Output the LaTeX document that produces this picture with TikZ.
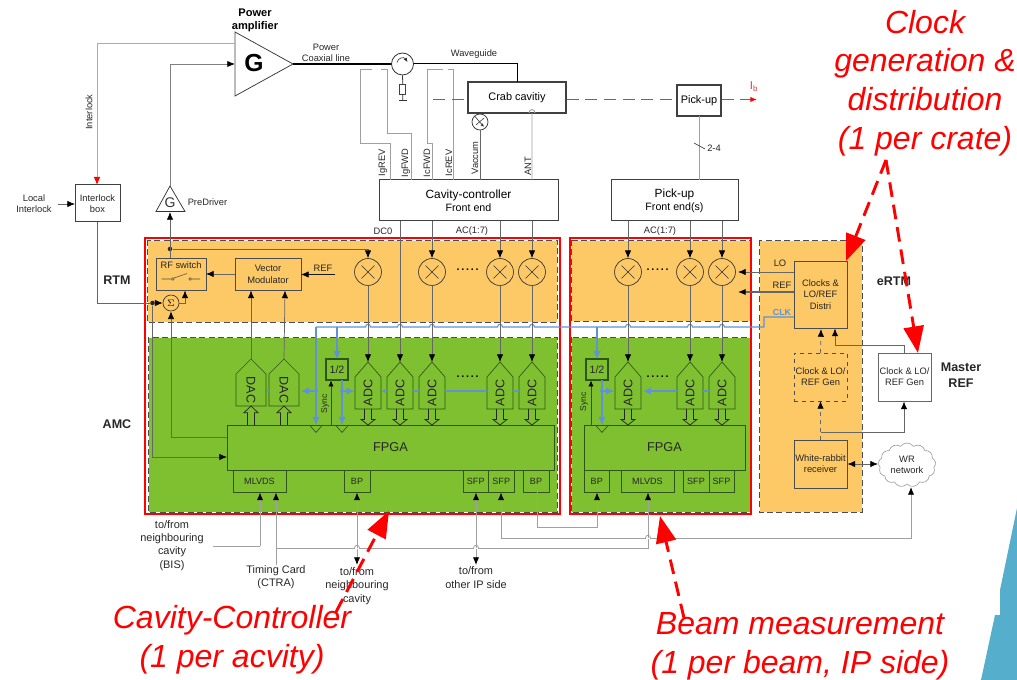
\documentclass[tikz,border=0pt]{standalone}
\usepackage{fontspec}
\setmainfont{Liberation Sans}
\usetikzlibrary{arrows.meta,shapes.symbols}
\definecolor{zorange}{HTML}{FDC866}
\definecolor{zgreen}{HTML}{7FC031}
\definecolor{wire}{HTML}{666666}
\definecolor{wgray}{HTML}{A0A0A0}
\definecolor{gline}{HTML}{2F5518}
\definecolor{bwire}{HTML}{5F92D6}
\definecolor{corner}{HTML}{55AECB}
\definecolor{beamred}{HTML}{F03030}
\definecolor{pinkwire}{HTML}{F58C8C}
\tikzset{
 x=0.75pt,y=-0.75pt,
 tip/.style={-{Latex[length=5.8pt,width=4.8pt,color=black]}},
 tipb/.style={{Latex[length=5.8pt,width=4.8pt,color=black]}-{Latex[length=5.8pt,width=4.8pt,color=black]}},
 wireline/.style={draw=wire,line width=0.55pt},
 grayline/.style={draw=wgray,line width=0.7pt},
 blueline/.style={draw=bwire,line width=0.8pt},
 bluetip/.style={-{Latex[length=6pt,width=5.5pt]}},
 sm/.style={font=\fontsize{7}{8.4}\selectfont,text=black!85,align=center,inner sep=0pt},
 lbl/.style={font=\fontsize{8.2}{10}\selectfont,text=black!85,align=center,inner sep=0pt},
 lg/.style={font=\fontsize{9.6}{12}\selectfont,text=black!85,align=center,inner sep=0pt},
 bd/.style={font=\fontsize{9.4}{12}\bfseries\selectfont,text=black!85,align=center,inner sep=0pt},
 note/.style={font=\fontsize{24}{29}\itshape\selectfont,text=red,align=center,inner sep=0pt},
 blockw/.style={draw=black!75,line width=0.75pt,fill=white},
 blockc/.style={draw=black!70,line width=0.65pt},
 blockg/.style={draw=gline,line width=0.65pt},
 zone/.style={fill=#1,draw=white,line width=0.7pt,postaction={draw=black!70,line width=0.7pt,dash pattern=on 4.5pt off 2.5pt}},
 redrect/.style={draw=red,line width=2.2pt},
 mixer/.style={circle,draw=black!80,line width=0.5pt,minimum size=20.2pt,inner sep=0pt},
 redarrow/.style={draw=red,line width=2.2pt,dash pattern=on 11pt off 6pt,-{Triangle[length=20pt,width=15pt,color=red]}},
 beamline/.style={draw=beamred,line width=0.7pt,dash pattern=on 9pt off 5pt},
 dotn/.style={circle,fill=black!85,inner sep=0pt,minimum size=3.4pt},
 bdot/.style={circle,fill=bwire,inner sep=0pt,minimum size=3pt},
 dotrow/.style={font=\fontsize{8}{9}\bfseries\selectfont,inner sep=0pt},
}
\newcommand\bx[7]{\node[minimum width={(#4-#2)*0.75pt},minimum height={(#5-#3)*0.75pt},inner sep=0pt,outer sep=0pt,align=center,#6] (#1) at ({(#2+#4)/2},{(#3+#5)/2}) {#7};}
\newcommand\pent[8]{\coordinate (#1-top) at (#2,#3); \coordinate (#1-bot) at (#2,#5);
 \draw[draw=gline,line width=0.5pt] (#2,#3) -- (#2+#6,#4) -- (#2+#6,#5) -- (#2-#6,#5) -- (#2-#6,#4) -- cycle;
 \node[rotate=#7,font=\fontsize{9.4}{12}\selectfont,text=black!85,inner sep=0pt] (#1) at (#2,{(#4+#5)/2}) {#8};}
\newcommand\fatarr[3]{\draw[draw=black!85,line width=0.55pt,fill=none] (#1-3.5,#3) -- (#1-3.5,{#2+(#3-#2)*0.35}) -- (#1-7,{#2+(#3-#2)*0.35}) -- (#1,#2) -- (#1+7,{#2+(#3-#2)*0.35}) -- (#1+3.5,{#2+(#3-#2)*0.35}) -- (#1+3.5,#3);}
\newcommand\hj[2]{-- (#1+2.5,#2) .. controls (#1+2.5,#2-3.6) and (#1-2.5,#2-3.6) .. (#1-2.5,#2)}
\newcommand\clkv[1]{\draw[draw=gline,line width=0.5pt] (#1-6.5,425) -- (#1,432.5) -- (#1+6.5,425);}
\begin{document}
\begin{tikzpicture}
\useasboundingbox (0,0) rectangle (1017,680);
% corner
\fill[corner] (1017,508) -- (1000,590) -- (1000,615) -- (995,615) -- (981,680) -- (1017,680) -- cycle;
% zones
\path[zone=zorange] (147,240) rectangle (557,322);
\path[zone=zorange] (571,240) rectangle (750,321);
\path[zone=zgreen] (148,337) rectangle (557,512);
\path[zone=zgreen] (571,337) rectangle (750,512);
\path[zone=zorange] (759,240) rectangle (862,512);
\draw[redrect] (145,238) rectangle (560,514);
\draw[redrect] (570,238) rectangle (751,514);

% top blocks
\coordinate (amp1) at (235,32); \coordinate (amp2) at (235,96); \coordinate (amp3) at (293,64);
\draw[draw=black!75,line width=0.6pt] (amp1) -- (amp3) -- (amp2) -- cycle;
\node[font=\fontsize{18.5}{20}\bfseries\selectfont,inner sep=0pt] (ampG) at (254,63) {G};
\node[font=\fontsize{8.3}{10}\bfseries\selectfont,align=center,inner sep=0pt] (amplab) at (255,20.5) {Power\\amplifier};
\coordinate (pd1) at (170,186); \coordinate (pd2) at (156,211.5); \coordinate (pd3) at (185,211.5);
\draw[draw=black!80,line width=0.55pt] (pd1) -- (pd3) -- (pd2) -- cycle;
\node[font=\fontsize{10.5}{12}\selectfont,text=black!80,inner sep=0pt] (pdG) at (170,202.5) {G};
\node[sm,anchor=west] (pdl) at (187.5,202) {PreDriver};
\bx{ilk}{75}{185}{120}{222}{blockw,sm}{Interlock\\box}
\node[sm] (locl) at (34,203.5) {Local\\Interlock};
\coordinate (loce) at (58,204);
\node[sm,rotate=90] (ilkl) at (89,112) {Interlock};
\node[bd] (rtm) at (117,280) {RTM};
\node[bd] (amc) at (117,424) {AMC};
\node[bd] (ertm) at (894,281) {eRTM};
\node[bd] (mref) at (961,375) {Master\\REF};
\node[sm] (pcl) at (326,52.5) {Power\\Coaxial line};
\node[sm] (wgl) at (474,54) {Waveguide};

% circulator
\node[circle,draw=black!80,line width=0.6pt,fill=white,minimum size=16.5pt,inner sep=0pt] (circ) at (402.5,64) {};
\draw[black!85,line width=0.45pt,-{Latex[length=3pt,width=2.6pt]}] (397,62.5) .. controls (398,57.5) and (404,56.5) .. (407.5,62);
\bx{load}{399.8}{84}{405.8}{94}{draw=black!75,line width=0.5pt}{}
\draw[black!80,line width=0.6pt] (circ.south) -- (load.north) (load.south) -- (402.8,100);
\coordinate (gl) at (399,100.5); \coordinate (gr) at (406.5,100.5);
\draw[black!80,line width=0.8pt] (gl) -- (gr);
% crab and pick-up
\bx{crab}{468}{82}{566}{113}{blockw,line width=1pt,font=\fontsize{8.2}{10}\selectfont}{Crab cavitiy}
\bx{pu}{677}{85}{721}{116}{blockw,line width=1pt,font=\fontsize{8.2}{10}\selectfont}{Pick-up}
\draw[black,line width=1pt] (amp3) -- (circ.west);
\draw[black,line width=0.75pt] (circ.east) -- (517,64) -- (517,82);
\coordinate (bstart) at (433,99.5); \coordinate (bend) at (757,99.5);
\coordinate (b1) at (467.5,99.5); \coordinate (b2) at (566.5,99.5); \coordinate (b3) at (676.5,99.5); \coordinate (b4) at (721.5,99.5);
\node[font=\fontsize{8.5}{10}\selectfont,text=beamred,inner sep=0pt] (ib) at (754,87) {I\textsubscript{b}};
\node[circle,draw=black!80,line width=0.55pt,fill=white,minimum size=12pt,inner sep=0pt] (vac) at (480,122) {};
\draw[black!80,line width=0.45pt,-{Latex[length=2.6pt,width=2.2pt]}] (475,116.5) -- (484,127);
\draw[black!80,line width=0.45pt] (476,125) -- (484,118);
% front ends
\bx{ccfe}{379}{180}{558}{221}{blockw,font=\fontsize{8}{9.75}\selectfont}{{\fontsize{8.9}{9.75}\selectfont Cavity-controller}\\Front end}
\bx{pufe}{611}{180}{738}{221}{blockw,font=\fontsize{8}{9.75}\selectfont}{{\fontsize{8.9}{9.75}\selectfont Pick-up}\\Front end(s)}
% probe lines
\draw[grayline] (390,180) -- (390,143) -- (360,143) -- (360,69) -- (372,69);
\draw[grayline] (381,69) -- (387,69) -- (387,133) -- (411,133) -- (411,180);
\draw[grayline] (432,180) -- (432,143) -- (427,143) -- (427,69) -- (443,69);
\draw[grayline] (448,69) -- (453,69) -- (453,180);
\draw[wireline] (vac.south) -- (480,180);
\draw[grayline] (532,180) -- (532,113) (529,113) .. controls (529,108.5) and (535,108.5) .. (535,113);
\draw[grayline] (pu.south -| 699,0) -- (699,180);
\coordinate (sl1) at (694,143); \coordinate (sl2) at (705,149);
\draw[black!80,line width=0.45pt] (sl1) -- (sl2);
\node[sm] (n24) at (714,148) {2-4};
\foreach \n/\xx/\yy/\t in {a/383/163/IgREV,b/406/163/IgFWD,c/427/163/IcFWD,d/449/163/IcREV,e/475/158/Vaccum,f/528/166/ANT}
  \node[sm,rotate=90] (lab\n) at (\xx,\yy) {\t};
\node[sm] (dc0) at (383,231) {DC0};
\node[sm] (ac1) at (472,231.5) {AC(1:7)};
\node[sm] (ac2) at (660,231.5) {AC(1:7)};

% mixers
\foreach \n/\xx in {1/368,2/432,3/500,4/532,5/628,6/690,7/722}{
  \node[mixer] (m\n) at (\xx,272) {};
  \draw[black!80,line width=0.5pt] (\xx-6.5,265.5) -- (\xx+6.5,278.5) (\xx+6.5,265.5) -- (\xx-6.5,278.5);}
\node[dotrow] (ld1) at (467.5,269.5) {.\,.\,.\,.\,.};
\node[dotrow] (ld2) at (657.5,269.5) {.\,.\,.\,.\,.};
% RTM blocks
\bx{rfs}{156}{258}{206}{290}{blockc}{}
\node[sm] (rfl) at (181,265) {RF switch};
\draw[black!70,line width=0.4pt] (161.5,279) -- (171.5,279) (174,278) -- (187,273.5) (191.5,279) -- (200,279);
\draw[black!70,line width=0.4pt] (172.8,279) circle[radius=1pt] (190.2,279) circle[radius=1pt];
\bx{vm}{235}{258}{301}{290}{blockc,sm,font=\fontsize{7}{9}\selectfont}{Vector\\Modulator}
\node[circle,draw=black!80,line width=0.5pt,minimum size=12pt,inner sep=0pt,font=\fontsize{7.5}{8}\selectfont] (sig) at (171,303) {$\Sigma$};
\node[sm] (refl) at (323,268) {REF};
\coordinate (refs) at (335,274.5);
\draw[black!90,line width=0.6pt,tip] (refs) -- (vm.east |- refs);
\draw[wireline,tip] (vm.west) -- (rfs.east);
% predriver path
\node[dotn] (d1) at (170,249) {};
\draw[wireline,tip] (rfs.north -| 170,0) -- (170,212);
\draw[grayline,tip,draw=wgray!80!black] (pd1) -- (170,64) -- (amp1 |- 0,64);
\draw[wireline,tip] (d1) -- (368,249) -- (m1.north);
% interlock
\coordinate (ilk1) at (235,43); \coordinate (ilk2) at (97,43); \coordinate (ilk3) at (97,185);
\draw[wireline,tip] (loce) -- (ilk.west |- loce);
\node[dotn] (d2) at (152.5,303) {};
\draw[wireline] (ilk.south -| 97,0) -- (97,303) -- (d2);
\draw[wireline,tip] (d2) -- (sig.west);
\draw[wireline,tip] (sig.east) -- (185,303) -- (185,290.5);

% FPGA etc
\bx{fp1}{227}{425}{554}{470}{blockg,lg}{FPGA}
\bx{fp2}{584}{425}{745}{470}{blockg,lg}{FPGA}
\foreach \n/\xa/\xb/\t in {ml1/233/286/MLVDS,bp1/344/370/BP,sf1/463/488.5/SFP,sf2/488.5/514/SFP,bp2/523/549/BP,bp3/584/609.5/BP,ml2/621/674/MLVDS,sf3/683/709/SFP,sf4/709/734/SFP}
  {\bx{\n}{\xa}{470}{\xb}{492}{blockg,sm,font=\fontsize{6.8}{8}\selectfont}{\t}}
\bx{hf1}{326}{359}{348}{380}{blockg,line width=0.8pt,font=\fontsize{8}{9}\selectfont,text=black!85}{1/2}
\bx{hf2}{586}{359}{608}{380}{blockg,line width=0.8pt,font=\fontsize{8}{9}\selectfont,text=black!85}{1/2}
\pent{dac1}{251}{359}{374}{406}{15}{-90}{DAC}
\pent{dac2}{284}{359}{374}{406}{15}{-90}{DAC}
\pent{adc1}{368}{362}{377}{409}{13}{90}{ADC}
\pent{adc2}{400}{362}{377}{409}{13}{90}{ADC}
\pent{adc3}{432}{362}{377}{409}{13}{90}{ADC}
\pent{adc4}{500}{362}{377}{409}{13}{90}{ADC}
\pent{adc5}{532}{362}{377}{409}{13}{90}{ADC}
\pent{adc6}{628}{362}{377}{409}{13}{90}{ADC}
\pent{adc7}{690}{362}{377}{409}{13}{90}{ADC}
\pent{adc8}{722}{362}{377}{409}{13}{90}{ADC}
\node[dotrow] (ld3) at (467.5,377) {.\,.\,.\,.\,.};
\node[dotrow] (ld4) at (657.5,377) {.\,.\,.\,.\,.};
\fatarr{251}{406}{425}
\fatarr{284}{406}{425}
\fatarr{368}{425}{409}
\fatarr{400}{425}{409}
\fatarr{432}{425}{409}
\fatarr{500}{425}{409}
\fatarr{532}{425}{409}
\fatarr{628}{425}{409}
\fatarr{690}{425}{409}
\fatarr{722}{425}{409}
\clkv{316}
\clkv{342}
\clkv{602}
% blue clock network
\bx{cd}{794}{261}{847}{328}{blockc,sm,font=\fontsize{7}{8.6}\selectfont,fill=zorange}{Clocks \&\\LO/REF\\Distri}
\draw[blueline] (cd.west |- 0,317) -- (764,317) -- (764,327) \hj{722}{327} \hj{690}{327} \hj{628}{327} \hj{532}{327} \hj{500}{327} \hj{432}{327} \hj{400}{327} \hj{368}{327} -- (316,327);
\draw[blueline,bluetip] (316,327) -- (316,425);
\draw[blueline,bluetip] (316,391) -- (301,391);
\draw[blueline] (268.5,391) -- (266.5,391);
\draw[blueline,bluetip] (337,327) -- (hf1.north -| 337,0);
\draw[blueline,bluetip] (342,380) -- (342,425);
\draw[blueline,bluetip] (342,391) -- (354.5,391);
\draw[blueline,-{Latex[length=3pt,width=3pt]}] (387,391) -- (381.5,391);
\draw[blueline] (419,391) -- (413,391) (487,391) -- (445,391) (519,391) -- (513,391);
\draw[blueline,bluetip] (597,327) -- (hf2.north -| 597,0);
\draw[blueline,bluetip] (602,380) -- (602,425);
\draw[blueline,bluetip] (602,391) -- (614,391);
\draw[blueline,bluetip] (677,391) -- (643,391);
\draw[blueline] (709,391) -- (703,391);
\node[bdot] (bd1) at (316,391) {};
\node[bdot] (bd2) at (342,391) {};
\node[bdot] (bd3) at (602,391) {};
% sync
\draw[draw=gline,line width=0.6pt,-{Latex[length=4.5pt,width=4pt,color=black]}] (331,425) -- (331,380.5);
\draw[draw=gline,line width=0.6pt,-{Latex[length=4.5pt,width=4pt,color=black]}] (591,425) -- (591,380.5);
\node[sm,rotate=90,font=\fontsize{6.4}{8}\selectfont] (sy1) at (325,404) {Sync};
\node[sm,rotate=90,font=\fontsize{6.4}{8}\selectfont] (sy2) at (584,402) {Sync};
% vertical wires
\draw[wireline,tip] (m2.south) -- (adc3-top);
\draw[wireline,tip] (m1.south) -- (adc1-top);
\draw[wireline,tip] (m3.south) -- (adc4-top);
\draw[wireline,tip] (m4.south) -- (adc5-top);
\draw[wireline,tip] (m5.south) -- (adc6-top);
\draw[wireline,tip] (m6.south) -- (adc7-top);
\draw[wireline,tip] (m7.south) -- (adc8-top);
\draw[wireline,tip] (400,221) -- (adc2-top);
\draw[wireline,tip] (432,221) -- (m2.north);
\draw[wireline,tip] (500,221) -- (m3.north);
\draw[wireline,tip] (532,221) -- (m4.north);
\draw[wireline,tip] (628,221) -- (m5.north);
\draw[wireline,tip] (690,221) -- (m6.north);
\draw[wireline,tip] (722,221) -- (m7.north);
\draw[wireline,tip] (dac1-top) -- (251,290.5);
\draw[wireline,tip] (dac2-top) -- (285,290.5);
\draw[wireline,tip] (227,437) -- (171,437) -- (sig.south);
\draw[wireline,tip] (d2) -- (152.5,457) -- (227,457);
% bottom wiring
\draw[grayline] (213,546) -- (260,546);
\draw[grayline,tip] (260,546) -- (260,492.5);
\coordinate (tc) at (276,565);
\draw[grayline,tip] (tc) -- (276,492.5);
\draw[grayline,tip] (276,548) -- (648,548) -- (648,492.5);
\draw[grayline,tipb] (357,492.5) -- (357,565);
\draw[grayline,tipb] (476,492.5) -- (476,565);
\draw[grayline,tip] (501,538) -- (501,492.5);
\draw[grayline,tip] (537,492.5) -- (537,527) -- (597,527) -- (597,492.5);
\node[lbl] (t1) at (172,545.5) {to/from\\neighbouring\\cavity\\(BIS)};
\node[lbl] (t2) at (276,577.5) {Timing Card\\(CTRA)};
\node[lbl] (t3) at (357,586) {to/from\\neighbouring\\cavity};
\node[lbl] (t4) at (476,577.5) {to/from\\other IP side};

% eRTM
\bx{cg1}{794}{353}{847}{401}{blockc,dashed,sm}{Clock \& LO/\\REF Gen}
\bx{wr}{794}{440}{847}{488}{blockc,sm}{White-rabbit\\receiver}
\bx{cg2}{878}{353}{931}{401}{blockc,draw=black!60,fill=white,sm}{Clock \& LO/\\REF Gen}
\node[cloud,cloud puffs=13,cloud puff arc=110,aspect=1.3,draw=wgray,line width=0.5pt,fill=white,minimum width=43pt,minimum height=33pt,inner sep=0pt,sm] (wrn) at (907,465) {WR\\network};
\draw[wireline,dashed,tip] (cg1.north) -- (821,329);
\draw[wireline,dashed,tip] (wr.north) -- (cg1.south);
\draw[wireline,tip] (821,432) -- (904,432) -- (904,401.5);
\draw[wireline,tip] (904,353) -- (904,345) -- (835,345) -- (835,328.5);
\draw[wireline,tipb] (847.5,464) -- (878,464);
\draw[wireline,tip] (cd.west |- 0,272) -- (738,272);
\draw[wireline,tip,line width=0.8pt] (cd.west |- 0,292) -- (738,292);
\node[sm] (lol) at (780,263) {LO};
\node[sm] (rel) at (782,285) {REF};
\node[font=\fontsize{6.6}{8}\bfseries\selectfont,text=bwire,inner sep=0pt] (clkl) at (782,312) {CLK};
\draw[grayline,tip] (501,538) -- (911,538) -- (911,487);
% jumps over lower wires
\foreach \xx/\yy in {357/548,476/548,648/538}
  {\fill[white] (\xx-2.4,\yy-0.5) rectangle (\xx+2.4,\yy+0.5);
   \draw[draw=wgray,line width=0.6pt] (\xx-2.5,\yy) .. controls (\xx-2.5,\yy-3.6) and (\xx+2.5,\yy-3.6) .. (\xx+2.5,\yy);}
% beam and interlock lines, last of the thin wires
\draw[beamline] (bstart) -- (b1);
\draw[beamline] (b2) -- (b3);
\draw[beamline,-{Latex[length=5pt,width=4pt,color=red]}] (b4) -- (bend);
\draw[draw=pinkwire,line width=0.7pt] (ilk1) -- (ilk2);
\draw[draw=pinkwire,line width=0.7pt,-{Latex[length=6pt,width=5pt,color=red]}] (ilk2) -- (ilk3);
% red annotations
\coordinate (a1s) at (336,612); \coordinate (a1e) at (389,511);
\coordinate (a2s) at (684,618); \coordinate (a2e) at (660,516);
\coordinate (a3s) at (886,160); \coordinate (a3e) at (846,261);
\coordinate (a4e) at (918,353);
\draw[redarrow] (a1s) -- (a1e);
\draw[redarrow] (a2s) -- (a2e);
\draw[redarrow] (a3s) -- (a3e);
\draw[redarrow] (a3s) -- (a4e);
\node[note] (n1) at (925,83) {Clock\\generation \&\\distribution\\(1 per crate)};
\node[note] (n2) at (232,640) {Cavity-Controller\\(1 per acvity)};
\node[note] (n3) at (800,646.5) {Beam measurement\\(1 per beam, IP side)};
\end{tikzpicture}
\end{document}
